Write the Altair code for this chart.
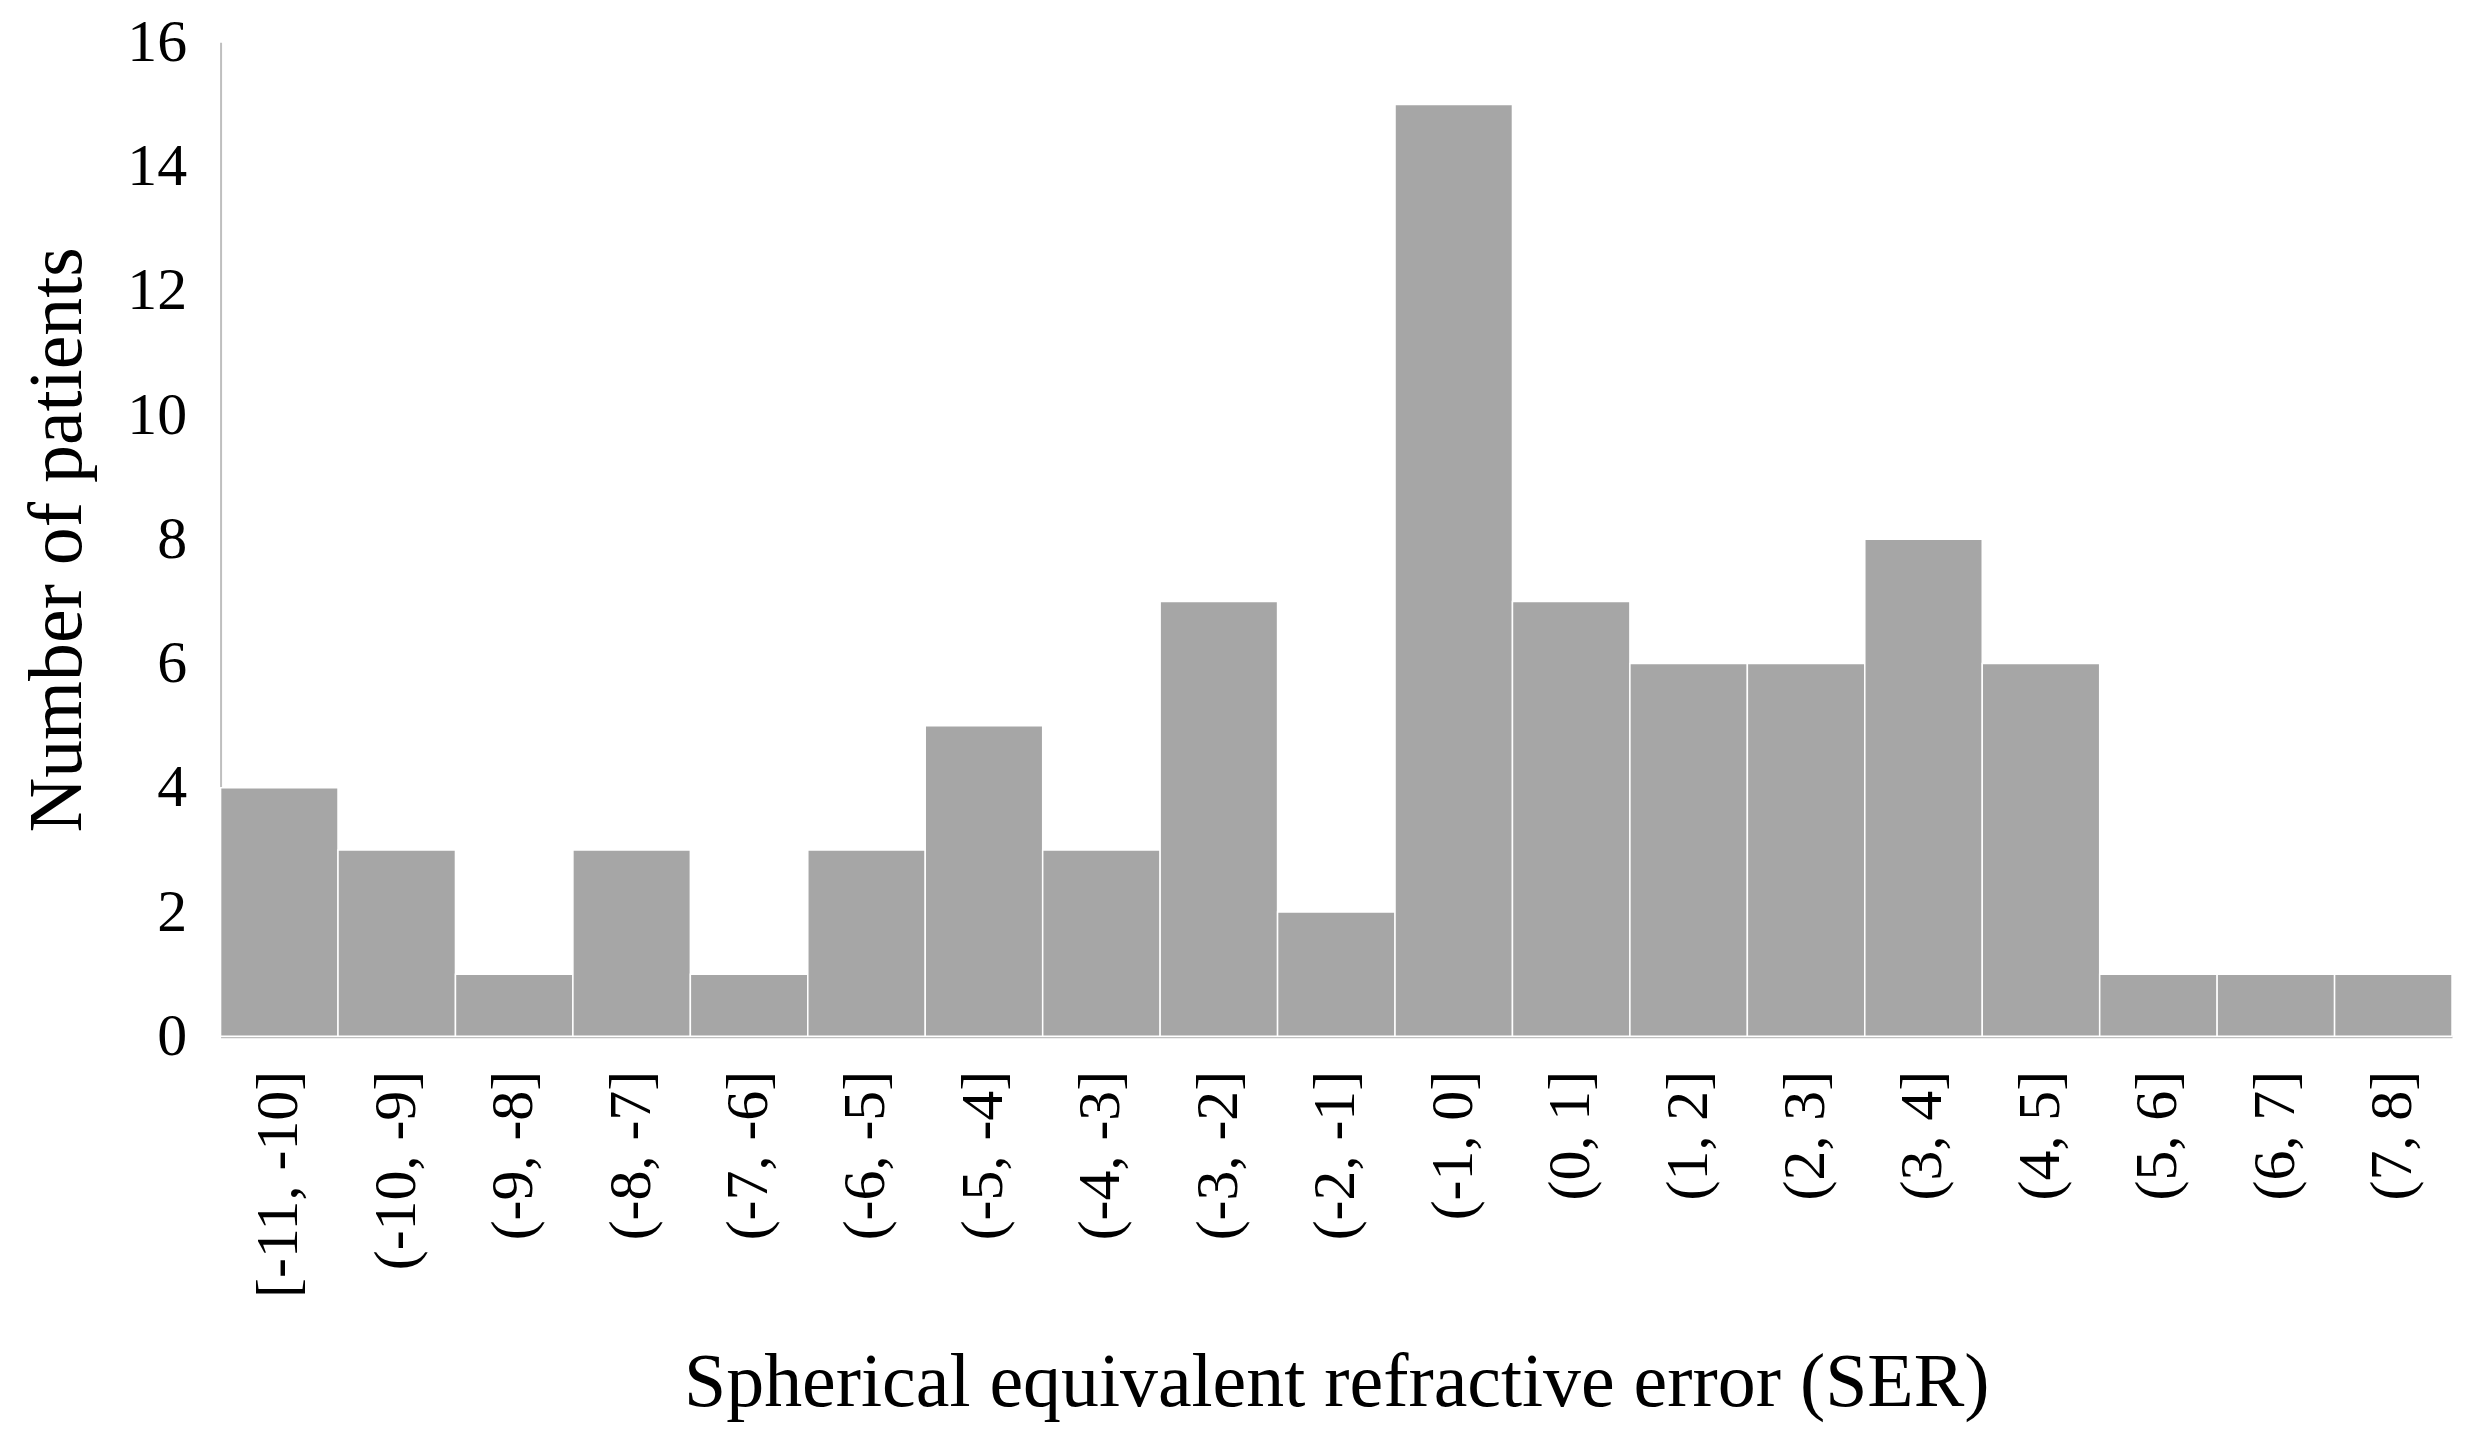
import altair as alt
import pandas as pd

bins = ["[-11, -10]", "(-10, -9]", "(-9, -8]", "(-8, -7]", "(-7, -6]", "(-6, -5]",
        "(-5, -4]", "(-4, -3]", "(-3, -2]", "(-2, -1]", "(-1, 0]", "(0, 1]",
        "(1, 2]", "(2, 3]", "(3, 4]", "(4, 5]", "(5, 6]", "(6, 7]", "(7, 8]"]
counts = [4, 3, 1, 3, 1, 3, 5, 3, 7, 2, 15, 7, 6, 6, 8, 6, 1, 1, 1]
y_ticks = [0, 2, 4, 6, 8, 10, 12, 14, 16]

df = pd.DataFrame({"bin": bins, "count": counts})

chart = alt.Chart(df).mark_bar(
    color="#A6A6A6", stroke="white", strokeWidth=1.5
).encode(
    x=alt.X("bin:N", sort=bins,
            scale=alt.Scale(paddingInner=0, paddingOuter=0),
            axis=alt.Axis(title="Spherical equivalent refractive error (SER)",
                          labelAngle=-90, labelAlign="right", labelBaseline="middle",
                          labelPadding=34, ticks=False, domainColor="#BFBFBF",
                          domainWidth=3, titlePadding=110, labelLimit=0)),
    y=alt.Y("count:Q", scale=alt.Scale(domain=[0, 16]),
            axis=alt.Axis(title="Number of patients", values=y_ticks, grid=False,
                          ticks=False, labelPadding=34, domainColor="#BFBFBF",
                          domainWidth=2, titlePadding=30)),
).properties(
    width=2236, height=996, padding={"left": 12, "top": 3, "right": 10, "bottom": 5}
).configure_axis(
    labelFont="Liberation Serif", labelFontSize=60, labelColor="black",
    titleFont="Liberation Serif", titleFontSize=76, titleColor="black",
    titleFontWeight="normal", labelFlush=False, labelOverlap=False
).configure_view(stroke=None)

chart.save("out.html", embed_options={"renderer": "svg", "actions": False})
